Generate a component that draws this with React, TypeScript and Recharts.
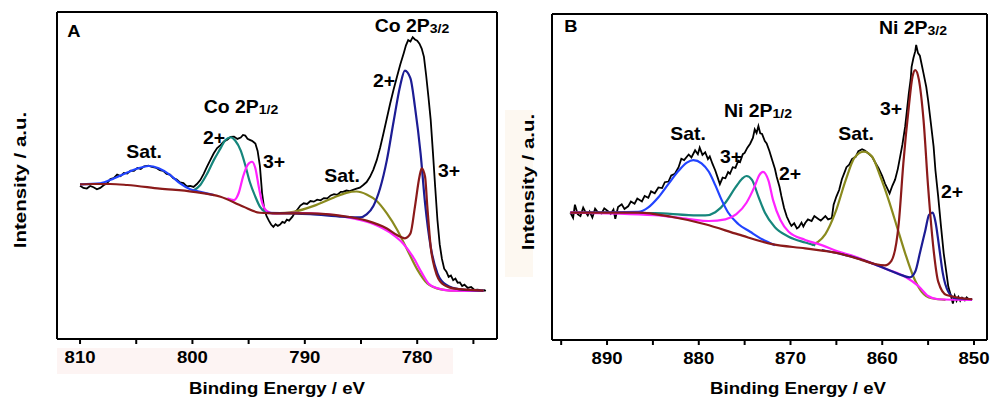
import { Line, LineChart, XAxis, YAxis } from "recharts";

// ---- Panel A : Co 2p ----
const coRawE = [810.0, 809.7, 809.4, 809.1, 808.8, 808.5, 808.2, 807.9, 807.6, 807.3, 807.0, 806.7, 806.4, 806.1, 805.8, 805.5, 805.2, 804.9, 804.6, 804.3, 803.9, 803.6, 803.2, 802.9, 802.6, 802.3, 802.0, 801.7, 801.4, 801.1, 800.8, 800.5, 800.2, 799.9, 799.6, 799.3, 799.0, 798.7, 798.4, 798.1, 797.8, 797.5, 797.2, 796.9, 796.6, 796.3, 796.0, 795.7, 795.5, 795.3, 795.1, 794.9, 794.7, 794.4, 794.2, 794.0, 793.8, 793.6, 793.4, 793.2, 793.0, 792.8, 792.6, 792.4, 792.2, 792.0, 791.8, 791.6, 791.4, 791.1, 790.9, 790.7, 790.4, 790.1, 789.8, 789.5, 789.2, 788.9, 788.6, 788.3, 788.0, 787.7, 787.4, 787.1, 786.8, 786.6, 786.3, 786.0, 785.7, 785.4, 785.1, 784.8, 784.5, 784.2, 783.9, 783.6, 783.3, 783.0, 782.7, 782.4, 782.1, 781.8, 781.5, 781.2, 781.0, 780.8, 780.6, 780.4, 780.2, 780.0, 779.8, 779.6, 779.4, 779.2, 779.0, 778.8, 778.6, 778.4, 778.2, 778.0, 777.8, 777.6, 777.4, 777.2, 777.0, 776.8, 776.6, 776.4, 776.2, 776.0, 775.8, 775.5, 775.2, 774.9, 774.6, 774.3, 774.0, 773.9];
const coRawI = [46.9, 46.2, 46.0, 46.8, 46.4, 45.8, 46.2, 47.0, 47.6, 48.9, 49.2, 50.3, 49.8, 50.8, 50.6, 51.5, 51.4, 52.3, 52.0, 52.8, 53.0, 52.6, 52.3, 51.6, 51.4, 50.5, 50.3, 49.2, 48.8, 47.9, 47.7, 46.7, 46.8, 46.5, 47.4, 48.6, 50.5, 52.7, 54.8, 56.8, 58.4, 59.3, 60.4, 60.9, 61.8, 61.9, 61.2, 61.6, 62.4, 62.2, 61.2, 60.9, 60.6, 59.8, 57.5, 53.0, 44.5, 39.5, 37.6, 36.2, 35.0, 34.3, 35.1, 34.6, 35.0, 35.8, 35.5, 36.5, 36.2, 37.4, 38.6, 39.4, 40.8, 41.5, 41.3, 42.2, 42.0, 42.6, 42.4, 43.1, 43.0, 43.9, 44.3, 44.1, 45.0, 45.0, 45.4, 45.2, 45.6, 46.0, 46.3, 47.1, 48.0, 49.6, 51.8, 54.7, 58.5, 62.9, 67.5, 72.1, 76.3, 80.2, 84.0, 87.4, 89.8, 91.4, 91.0, 92.3, 91.6, 91.2, 90.3, 88.8, 86.3, 80.5, 74.0, 67.0, 57.0, 46.5, 36.4, 29.0, 24.5, 21.5, 20.6, 19.0, 19.4, 18.0, 18.5, 17.2, 17.3, 16.2, 16.6, 15.6, 15.9, 15.0, 15.1, 14.8, 14.9, 14.7];

const coBgE = [810.0, 808.8, 807.3, 805.8, 802.9, 799.9, 797.5, 795.5, 794.0, 792.5, 789.5, 786.6, 784.5, 782.7, 781.8, 781.1, 780.6, 780.2, 779.8, 779.6, 779.3, 779.1, 778.8, 778.4, 777.8, 776.8, 774.1];
const coBgI = [47.3, 47.4, 47.4, 47.1, 46.0, 45.0, 43.5, 40.5, 38.6, 38.4, 38.4, 37.6, 36.2, 33.8, 31.8, 30.8, 32.3, 40.5, 49.6, 52.2, 49.6, 40.5, 28.2, 21.1, 17.0, 15.5, 14.8];

const coSat1E = [810.0, 808.2, 807.0, 805.8, 804.8, 803.9, 803.0, 802.0, 801.1, 800.2, 799.3, 798.1];
const coSat1I = [47.3, 47.6, 49.1, 50.9, 52.2, 52.9, 52.2, 50.2, 47.6, 45.8, 45.0, 44.0];

const co12TwoE = [799.9, 799.3, 798.7, 798.1, 797.5, 797.1, 796.6, 796.2, 795.7, 795.3, 794.9, 794.4, 794.0, 793.5, 792.8];
const co12TwoI = [45.4, 47.1, 50.5, 54.7, 58.3, 60.7, 61.7, 60.7, 57.6, 53.2, 48.1, 43.5, 40.5, 38.9, 38.4];

const co12ThreeE = [796.9, 796.3, 795.9, 795.5, 795.1, 794.7, 794.4, 794.1, 793.8, 793.4, 792.8, 791.0, 788.0, 785.7, 783.9, 782.4, 781.2, 780.3, 779.6, 779.0, 778.2, 777.1, 774.1];
const co12ThreeI = [43.0, 42.5, 44.5, 49.6, 53.2, 54.2, 52.2, 46.6, 41.7, 39.2, 38.4, 38.6, 38.1, 36.9, 35.2, 32.5, 29.0, 24.7, 20.3, 17.0, 15.5, 14.8, 14.7];

const co32TwoE = [793.4, 789.5, 786.6, 785.1, 784.5, 783.9, 783.3, 782.7, 782.1, 781.5, 781.1, 780.6, 780.2, 779.7, 779.3, 778.8, 778.2, 777.4, 776.2, 774.1];
const co32TwoI = [38.6, 38.2, 37.4, 37.2, 38.1, 40.7, 46.1, 54.7, 66.5, 77.7, 82.1, 79.7, 71.0, 56.8, 41.5, 28.2, 20.1, 16.5, 15.2, 14.8];

const coSat2E = [792.8, 791.0, 789.2, 787.4, 786.3, 785.4, 784.5, 783.6, 782.7, 781.8, 780.9, 780.0, 779.1, 777.9, 776.2, 774.1];
const coSat2I = [38.4, 38.9, 40.7, 43.3, 44.7, 45.1, 44.2, 42.2, 38.4, 33.5, 27.4, 21.3, 17.0, 15.2, 14.7, 14.7];

const coTicks = [810, 805, 800, 795, 790, 785, 780, 775];

// ---- Panel B : Ni 2p ----
const niRawE = [894.0, 893.7, 893.5, 893.2, 892.9, 892.6, 892.4, 892.1, 891.9, 891.6, 891.3, 891.0, 890.6, 890.3, 889.9, 889.6, 889.3, 889.1, 888.8, 888.4, 888.1, 887.7, 887.4, 887.0, 886.7, 886.2, 885.9, 885.5, 885.2, 884.8, 884.4, 884.0, 883.7, 883.3, 883.0, 882.6, 882.2, 881.9, 881.6, 881.1, 880.8, 880.4, 880.1, 879.9, 879.6, 879.3, 879.0, 878.8, 878.5, 878.2, 877.9, 877.7, 877.4, 877.1, 876.8, 876.6, 876.3, 876.0, 875.7, 875.5, 875.2, 875.0, 874.7, 874.4, 874.1, 873.9, 873.7, 873.5, 873.3, 873.1, 872.8, 872.6, 872.3, 872.0, 871.7, 871.5, 871.2, 871.0, 870.7, 870.4, 870.1, 869.9, 869.6, 869.3, 869.1, 868.8, 868.6, 868.4, 868.1, 867.7, 867.4, 867.0, 866.7, 866.2, 865.9, 865.5, 865.3, 865.0, 864.7, 864.4, 864.1, 863.9, 863.6, 863.3, 862.9, 862.6, 862.2, 861.9, 861.5, 861.1, 860.8, 860.4, 860.0, 859.7, 859.4, 859.2, 858.9, 858.6, 858.3, 858.1, 857.8, 857.5, 857.3, 857.1, 856.9, 856.8, 856.6, 856.4, 856.3, 856.1, 855.9, 855.7, 855.5, 855.2, 855.0, 854.7, 854.4, 854.2, 853.9, 853.6, 853.3, 853.0, 852.8, 852.5, 852.3, 852.1, 851.9, 851.7, 851.5, 851.3, 851.0, 850.8, 850.5, 850.2];
const niRawI = [39.1, 37.5, 41.5, 38.6, 38.0, 40.6, 39.5, 38.2, 39.4, 37.6, 40.3, 39.2, 38.8, 40.4, 39.5, 38.7, 40.0, 37.2, 40.8, 41.6, 40.2, 41.0, 42.5, 41.8, 43.4, 42.5, 44.2, 43.6, 45.6, 45.0, 46.8, 46.6, 48.4, 48.6, 50.5, 51.0, 53.0, 55.6, 55.2, 56.9, 56.0, 58.2, 57.0, 59.0, 56.8, 57.6, 55.5, 56.3, 54.0, 52.0, 49.5, 47.8, 49.8, 49.6, 51.5, 51.0, 53.0, 52.8, 55.0, 54.6, 57.0, 57.4, 59.0, 60.2, 62.0, 64.6, 63.5, 65.6, 63.4, 63.2, 61.0, 60.3, 58.0, 55.2, 52.5, 50.0, 47.0, 44.2, 40.5, 37.8, 36.0, 35.0, 35.8, 34.2, 34.6, 36.0, 34.8, 35.9, 37.0, 36.5, 38.0, 37.2, 36.6, 38.0, 37.0, 37.4, 41.5, 44.0, 46.0, 49.3, 51.5, 53.0, 53.8, 55.5, 56.2, 57.9, 58.5, 58.1, 57.2, 56.2, 54.6, 52.7, 50.3, 48.0, 46.2, 45.0, 47.3, 49.2, 52.5, 55.5, 60.0, 65.5, 70.6, 75.7, 80.0, 83.8, 86.5, 88.6, 90.5, 88.0, 87.2, 84.5, 81.8, 77.6, 73.6, 66.5, 59.3, 52.0, 44.0, 35.0, 26.6, 20.5, 16.4, 13.4, 11.2, 13.6, 12.0, 13.2, 12.0, 13.0, 12.2, 13.1, 12.3, 12.6];

const niBgE = [894.0, 886.6, 883.0, 879.3, 875.7, 872.0, 868.4, 864.8, 862.2, 860.8, 859.7, 859.0, 858.2, 857.7, 857.1, 856.7, 856.4, 856.0, 855.5, 855.0, 854.4, 853.9, 853.0, 850.2];
const niBgI = [39.1, 39.1, 37.8, 35.5, 32.4, 29.4, 28.1, 26.6, 24.5, 23.3, 22.9, 24.3, 35.8, 54.2, 71.6, 80.8, 82.8, 79.8, 67.5, 47.0, 27.6, 17.9, 13.8, 12.5];

const ni32TwoE = [866.6, 863.0, 860.8, 859.3, 857.9, 857.0, 856.4, 855.9, 855.3, 854.9, 854.5, 854.2, 853.8, 853.4, 852.8, 852.0, 850.2];
const ni32TwoI = [27.6, 25.3, 23.2, 21.5, 19.9, 19.2, 21.0, 26.6, 33.7, 38.4, 39.1, 36.3, 28.6, 20.5, 14.8, 12.8, 12.5];

const niSat1E = [894.0, 886.6, 885.5, 884.4, 883.3, 882.2, 881.3, 880.6, 879.7, 878.9, 878.2, 877.5, 876.8, 875.7, 874.4, 873.1, 871.7];
const niSat1I = [39.1, 39.3, 40.7, 43.8, 47.9, 51.9, 54.4, 55.2, 54.2, 51.6, 47.5, 42.9, 39.1, 35.6, 33.2, 30.9, 29.1];

const ni12ThreeE = [894.0, 884.8, 881.1, 879.3, 878.2, 877.1, 876.0, 875.3, 874.8, 874.2, 873.5, 872.8, 871.7, 870.2, 868.4, 867.3];
const ni12ThreeI = [39.1, 38.9, 38.3, 38.2, 39.2, 42.1, 46.8, 49.4, 50.3, 49.1, 44.0, 39.1, 34.6, 31.7, 29.9, 29.0];

const ni12TwoE = [894.0, 884.8, 881.1, 878.9, 877.1, 875.9, 874.8, 873.9, 873.4, 873.0, 872.4, 871.9, 871.1, 870.2, 868.4, 866.6, 864.8, 863.0, 861.1, 859.3, 857.5, 856.0, 855.0, 853.9, 850.2];
const ni12TwoI = [39.1, 38.3, 37.1, 36.5, 37.0, 38.6, 42.1, 47.2, 50.6, 51.6, 48.9, 42.9, 36.8, 33.2, 30.7, 29.1, 27.1, 25.6, 23.5, 21.5, 19.4, 16.4, 13.5, 12.5, 12.3];

const niSat2E = [867.7, 867.0, 866.2, 865.1, 864.0, 863.0, 862.0, 861.1, 860.2, 859.3, 858.4, 857.5, 856.6, 855.7, 854.6, 853.1];
const niSat2I = [29.1, 30.1, 32.5, 39.2, 48.9, 56.0, 57.8, 56.2, 50.1, 42.9, 34.8, 26.6, 19.4, 14.8, 12.8, 12.3];

const niTicks = [895, 890, 885, 880, 875, 870, 865, 860, 855, 850];

const C = {
  raw: "#000000",
  bg: "#8b1a1a",
  navy: "#1c1c94",
  blue: "#2244ff",
  teal: "#16867c",
  pink: "#ff22ff",
  olive: "#8a8a1e",
};

const FONT = "'Liberation Sans', Arial, sans-serif";

type Curve = { key: string; e: number[]; v: number[]; color: string; raw?: boolean };

const zip = (e: number[], v: number[]) => e.map((x, i) => ({ e: x, v: v[i] }));

const coCurves: Curve[] = [
  { key: "raw", e: coRawE, v: coRawI, color: C.raw, raw: true },
  { key: "sat2", e: coSat2E, v: coSat2I, color: C.olive },
  { key: "two12", e: co12TwoE, v: co12TwoI, color: C.teal },
  { key: "sat1", e: coSat1E, v: coSat1I, color: C.blue },
  { key: "three12", e: co12ThreeE, v: co12ThreeI, color: C.pink },
  { key: "two32", e: co32TwoE, v: co32TwoI, color: C.navy },
  { key: "bg", e: coBgE, v: coBgI, color: C.bg },
];

const niCurves: Curve[] = [
  { key: "raw", e: niRawE, v: niRawI, color: C.raw, raw: true },
  { key: "sat2", e: niSat2E, v: niSat2I, color: C.olive },
  { key: "three12", e: ni12ThreeE, v: ni12ThreeI, color: C.teal },
  { key: "sat1", e: niSat1E, v: niSat1I, color: C.blue },
  { key: "two12", e: ni12TwoE, v: ni12TwoI, color: C.pink },
  { key: "two32", e: ni32TwoE, v: ni32TwoI, color: C.navy },
  { key: "bg", e: niBgE, v: niBgI, color: C.bg },
];

const frame = { stroke: "#000", strokeWidth: 2 };

function EnergyTick(props: any) {
  const { x, y, payload } = props;
  if (payload.value % 10 !== 0) return <g />;
  return (
    <text
      transform={`translate(${x},${y}) scale(1.16,1)`}
      textAnchor='middle'
      dy='0.71em'
      fontFamily={FONT}
      fontWeight={700}
      fontSize={16}
      fill='#000'
    >
      {payload.value}
    </text>
  );
}

// axes are 1px thick so recharts draws them; margins already allow for that
function XpsPanel({
  left,
  width,
  margin,
  domain,
  ticks,
  curves,
}: {
  left: number;
  width: number;
  margin: { top: number; right: number; bottom: number; left: number };
  domain: [number, number];
  ticks: number[];
  curves: Curve[];
}) {
  const m = {
    top: margin.top - 1,
    right: margin.right - 1,
    bottom: margin.bottom - 1,
    left: margin.left - 1,
  };
  return (
    <div style={{ position: "absolute", left, top: 0 }}>
      <LineChart width={width} height={400} margin={m}>
        <XAxis
          xAxisId='b'
          type='number'
          dataKey='e'
          domain={domain}
          reversed
          allowDataOverflow
          ticks={ticks}
          interval={0}
          height={1}
          tickSize={5}
          tickMargin={8}
          tick={<EnergyTick />}
          axisLine={frame}
          tickLine={frame}
        />
        <XAxis
          xAxisId='t'
          orientation='top'
          type='number'
          domain={domain}
          reversed
          allowDataOverflow
          height={1}
          tick={false}
          tickLine={false}
          axisLine={frame}
        />
        <YAxis
          yAxisId='l'
          type='number'
          domain={[0, 100]}
          allowDataOverflow
          width={1}
          tick={false}
          tickLine={false}
          axisLine={frame}
        />
        <YAxis
          yAxisId='r'
          orientation='right'
          type='number'
          domain={[0, 100]}
          width={1}
          tick={false}
          tickLine={false}
          axisLine={frame}
        />
        {curves.map((c) => (
          <Line
            key={c.key}
            xAxisId='b'
            yAxisId='l'
            data={zip(c.e, c.v)}
            dataKey='v'
            type={c.raw ? "linear" : "monotone"}
            stroke={c.color}
            strokeWidth={c.raw ? 1.8 : 2.2}
            dot={false}
            activeDot={false}
            isAnimationActive={false}
          />
        ))}
      </LineChart>
    </div>
  );
}

function Note({ x, y, text, sub, size = 18 }: { x: number; y: number; text: string; sub?: string; size?: number }) {
  return (
    <text
      transform={`translate(${x},${y}) scale(1.08,1)`}
      textAnchor='middle'
      dy='0.36em'
      fontFamily={FONT}
      fontWeight={700}
      fontSize={size}
      fill='#000'
    >
      {text}
      {sub && (
        <tspan fontSize={13} dy={1}>
          {sub}
        </tspan>
      )}
    </text>
  );
}

function AxisTitle({ x, y, text, rotate = 0, sx }: { x: number; y: number; text: string; rotate?: number; sx: number }) {
  return (
    <text
      transform={`translate(${x},${y}) rotate(${rotate}) scale(${sx},1)`}
      textAnchor='middle'
      dy='0.36em'
      fontFamily={FONT}
      fontWeight={700}
      fontSize={16.5}
      fill='#000'
    >
      {text}
    </text>
  );
}

export default function App() {
  return (
    <div style={{ position: "absolute", left: 0, top: 0, width: 990, height: 400, background: "#fff", overflow: "hidden" }}>
      <div style={{ position: "absolute", left: 57, top: 348, width: 396, height: 26, background: "#fdf4f3" }} />
      <div style={{ position: "absolute", left: 505, top: 110, width: 28, height: 167, background: "#fdf8f1" }} />
      <XpsPanel
        left={0}
        width={500}
        margin={{ top: 12, right: 3, bottom: 61, left: 57 }}
        domain={[772.9, 812.05]}
        ticks={coTicks}
        curves={coCurves}
      />
      <XpsPanel
        left={500}
        width={490}
        margin={{ top: 14, right: 3, bottom: 60, left: 52 }}
        domain={[848.58, 896.0]}
        ticks={niTicks}
        curves={niCurves}
      />
      <svg width={990} height={400} style={{ position: "absolute", left: 0, top: 0, pointerEvents: "none" }}>
        <AxisTitle x={20} y={180} text='Intensity / a.u.' rotate={-90} sx={1.24} />
        <AxisTitle x={528} y={182} text='Intensity / a.u.' rotate={-90} sx={1.24} />
        <AxisTitle x={277} y={388} text='Binding Energy / eV' sx={1.13} />
        <AxisTitle x={798} y={388} text='Binding Energy / eV' sx={1.13} />

        <Note x={74} y={31} text='A' size={17} />
        <Note x={144} y={152} text='Sat.' />
        <Note x={241} y={107} text='Co 2P' sub='1/2' />
        <Note x={214} y={138} text='2+' />
        <Note x={274} y={162} text='3+' />
        <Note x={342} y={176} text='Sat.' />
        <Note x={384} y={81} text='2+' />
        <Note x={412} y={26} text='Co 2P' sub='3/2' />
        <Note x={449} y={171} text='3+' />

        <Note x={571} y={26} text='B' size={17} />
        <Note x={913} y={28} text='Ni 2P' sub='3/2' />
        <Note x={891} y={109} text='3+' />
        <Note x={758} y={111} text='Ni 2P' sub='1/2' />
        <Note x={688} y={134} text='Sat.' />
        <Note x={731} y={157} text='3+' />
        <Note x={790} y={174} text='2+' />
        <Note x={856} y={134} text='Sat.' />
        <Note x={952} y={192} text='2+' />
      </svg>
    </div>
  );
}
